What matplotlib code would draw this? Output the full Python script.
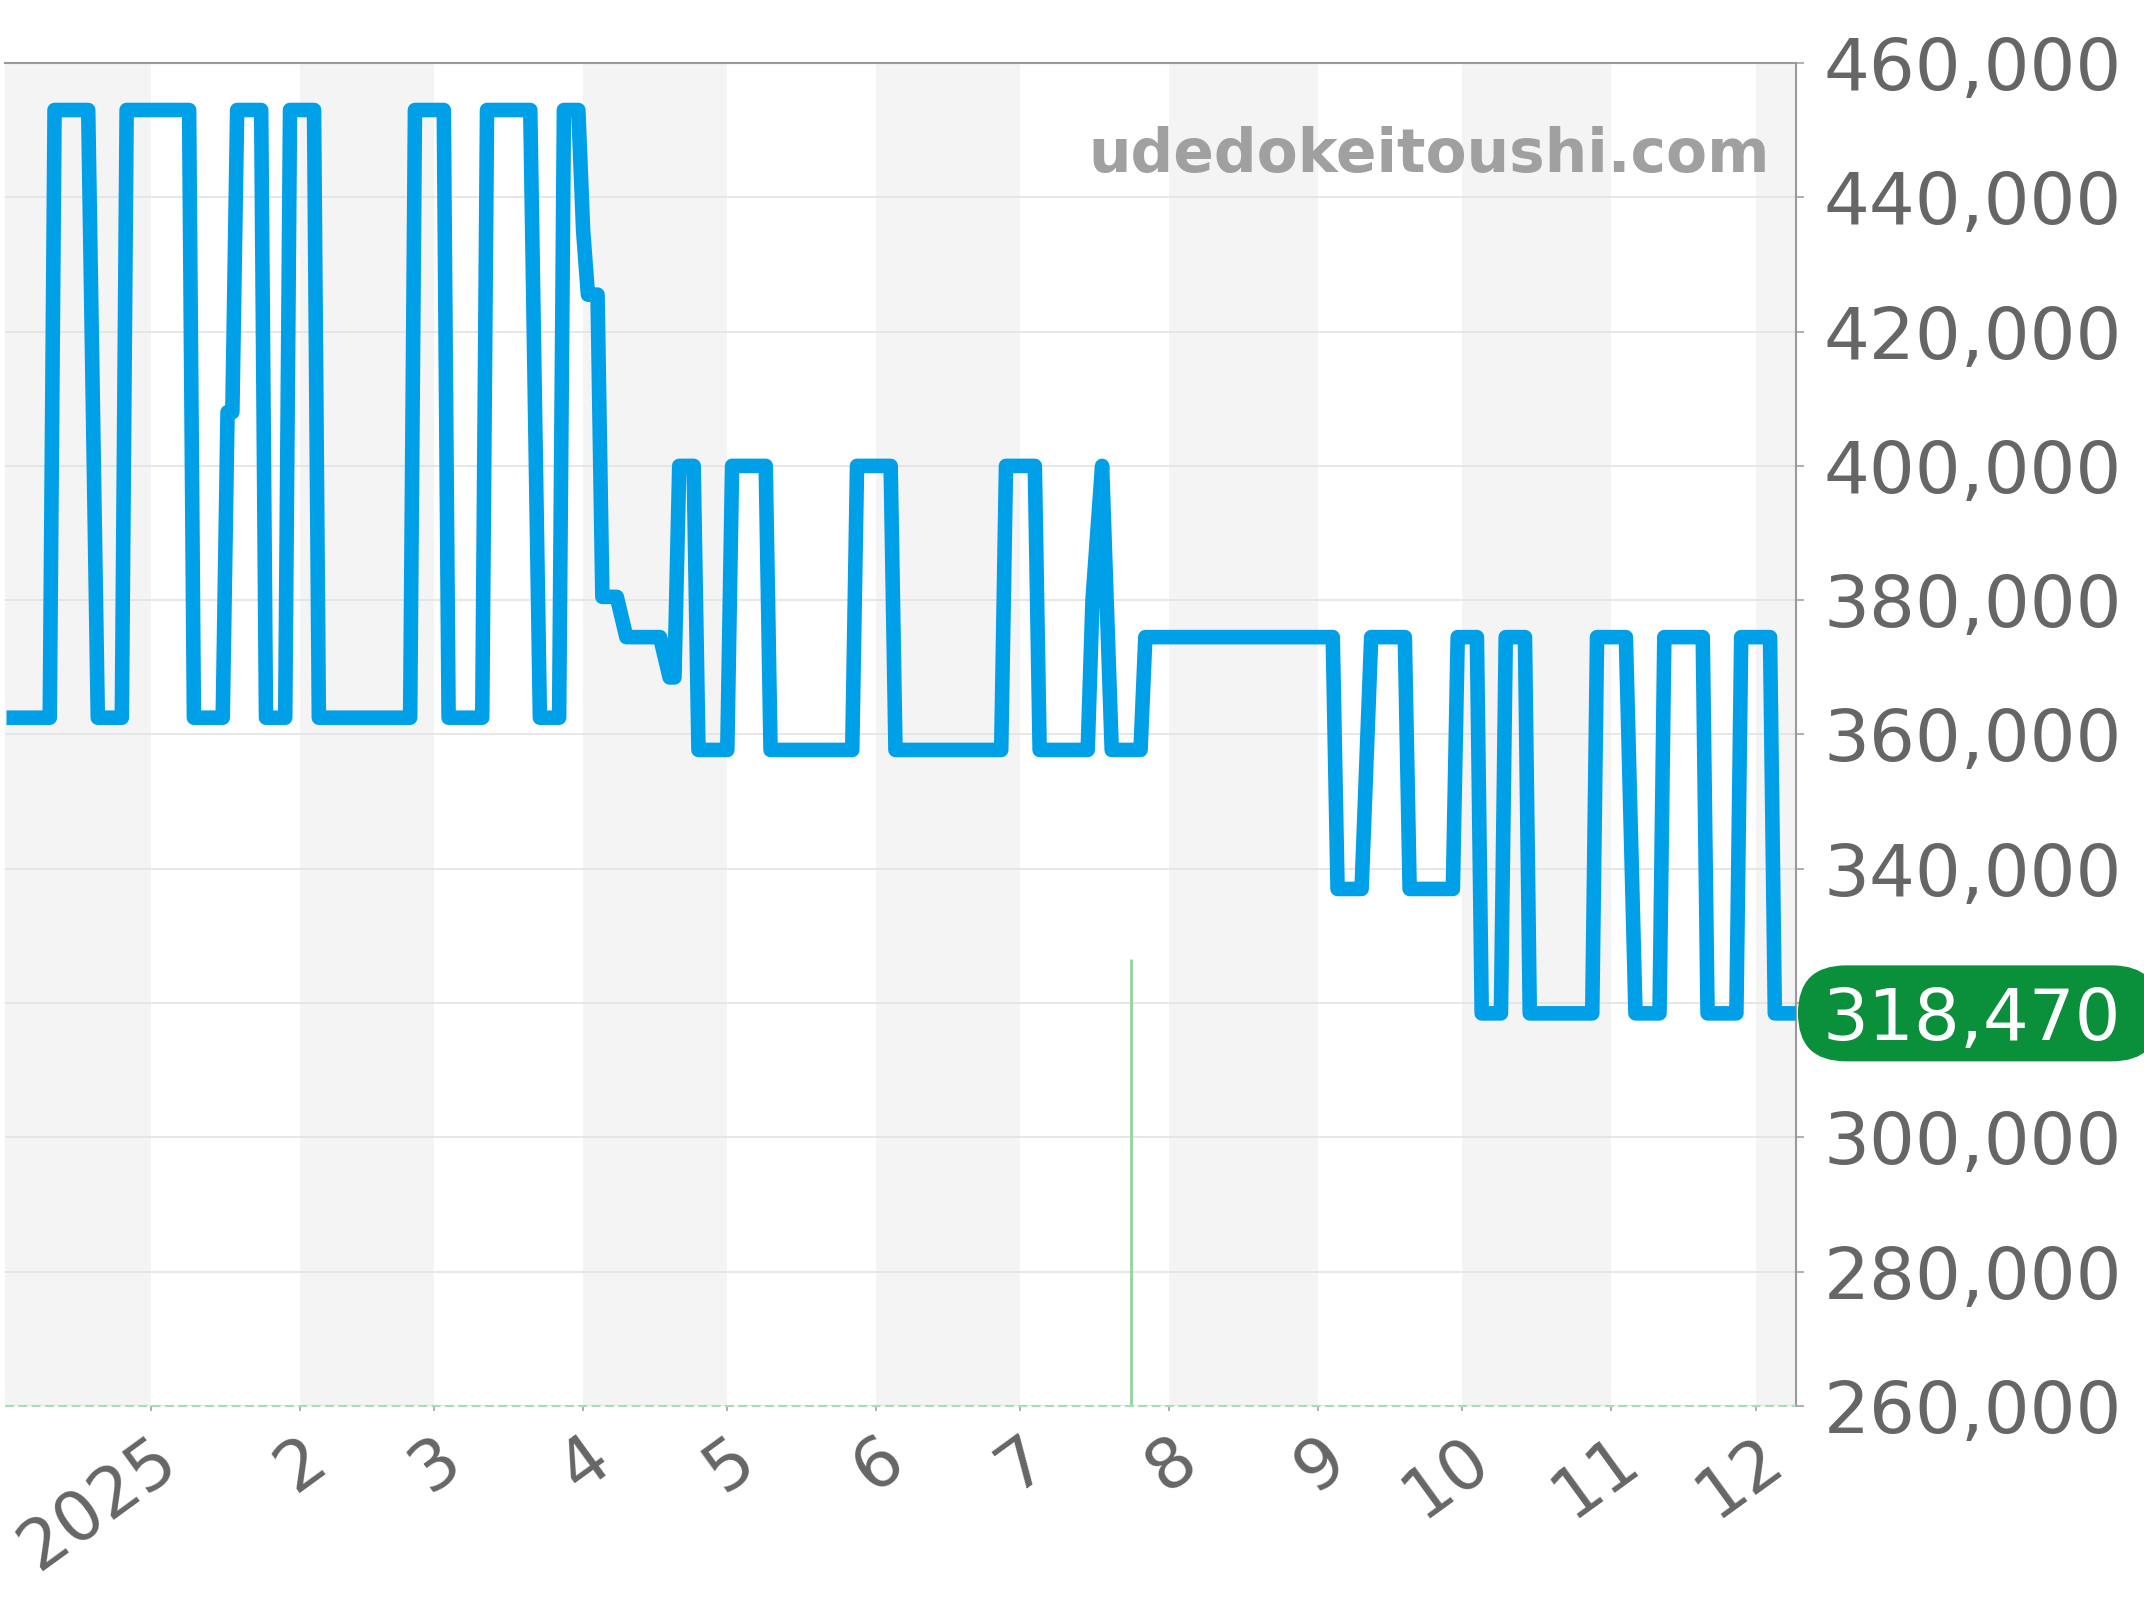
import matplotlib
matplotlib.use("Agg")
import matplotlib.pyplot as plt
from matplotlib.patches import FancyBboxPatch
from matplotlib.transforms import IdentityTransform
from matplotlib.ticker import FuncFormatter
import pandas as pd

# ---------------- data ----------------
dates = [
    "2024-12-02", "2024-12-11", "2024-12-12", "2024-12-19", "2024-12-21", "2024-12-26",
    "2024-12-27", "2025-01-09", "2025-01-10", "2025-01-16", "2025-01-17", "2025-01-18",
    "2025-01-19", "2025-01-24", "2025-01-25", "2025-01-29", "2025-01-30", "2025-02-04",
    "2025-02-05", "2025-02-24", "2025-02-25", "2025-03-03", "2025-03-04", "2025-03-11",
    "2025-03-12", "2025-03-21", "2025-03-23", "2025-03-27", "2025-03-28", "2025-03-31",
    "2025-04-01", "2025-04-02", "2025-04-04", "2025-04-05", "2025-04-08", "2025-04-10",
    "2025-04-17", "2025-04-19", "2025-04-20", "2025-04-21", "2025-04-24", "2025-04-25",
    "2025-05-01", "2025-05-02", "2025-05-09", "2025-05-10", "2025-05-27", "2025-05-28",
    "2025-06-04", "2025-06-05", "2025-06-27", "2025-06-28", "2025-07-04", "2025-07-05",
    "2025-07-15", "2025-07-16", "2025-07-18", "2025-07-20", "2025-07-26", "2025-07-27",
    "2025-09-04", "2025-09-05", "2025-09-10", "2025-09-12", "2025-09-19", "2025-09-20",
    "2025-09-29", "2025-09-30", "2025-10-04", "2025-10-05", "2025-10-09", "2025-10-10",
    "2025-10-14", "2025-10-15", "2025-10-28", "2025-10-29", "2025-11-04", "2025-11-06",
    "2025-11-11", "2025-11-12", "2025-11-20", "2025-11-21", "2025-11-27", "2025-11-28",
    "2025-12-04", "2025-12-05", "2025-12-10",
]
prices = [
    362500, 362500, 453000, 453000, 362500, 362500,
    453000, 453000, 362500, 362500, 408000, 408000,
    453000, 453000, 362500, 362500, 453000, 453000,
    362500, 362500, 453000, 453000, 362500, 362500,
    453000, 453000, 362500, 362500, 453000, 453000,
    435000, 425500, 425500, 380500, 380500, 374500,
    374500, 368500, 368500, 400000, 400000, 357700,
    357700, 400000, 400000, 357700, 357700, 400000,
    400000, 357700, 357700, 400000, 400000, 357700,
    357700, 380000, 400000, 357700, 357700, 374500,
    374500, 337000, 337000, 374500, 374500, 337000,
    337000, 374500, 374500, 318470, 318470, 374500,
    374500, 318470, 318470, 374500, 374500, 318470,
    318470, 374500, 374500, 318470, 318470, 374500,
    374500, 318470, 318470,
]

tick_dates = ["2025-01-01", "2025-02-01", "2025-03-01", "2025-04-01", "2025-05-01",
              "2025-06-01", "2025-07-01", "2025-08-01", "2025-09-01", "2025-10-01",
              "2025-11-01", "2025-12-01"]
tick_labels = ["2025", "2", "3", "4", "5", "6", "7", "8", "9", "10", "11", "12"]
y_ticks = [260000, 280000, 300000, 320000, 340000, 360000,
           380000, 400000, 420000, 440000, 460000]

shade_starts = ["2024-12-01", "2025-02-01", "2025-04-01", "2025-06-01",
                "2025-08-01", "2025-10-01", "2025-12-01"]
shade_ends = ["2025-01-01", "2025-03-01", "2025-05-01", "2025-07-01",
              "2025-09-01", "2025-11-01", "2026-01-01"]

marker_date = "2025-07-24"
marker_top = 326500
last_price = 318470
x_start = "2024-12-01 14:00"
x_end = "2025-12-09 12:00"
y_min, y_max = 260000, 460000
watermark = "udedokeitoushi.com"

# ---------------- figure ----------------
fig = plt.figure(figsize=(21.44, 16), dpi=100)
ax = fig.add_axes([0.0021, 0.12125, 0.8358, 0.83938])

x = pd.to_datetime(dates)

for s, e in zip(shade_starts, shade_ends):
    ax.axvspan(pd.Timestamp(s), pd.Timestamp(e), color="#f4f4f4", lw=0, zorder=0)

ax.set_axisbelow(True)
ax.yaxis.grid(True, color="#e3e3e3", lw=1.2, zorder=0.5)
ax.xaxis.grid(False)

ax.vlines(pd.Timestamp(marker_date), y_min, marker_top, color="#8fd69b", lw=2.0, zorder=2)
ax.axhline(y_min, color="#a9ddb5", lw=1.6, ls=(0, (4, 2)), zorder=3, clip_on=False)

ax.plot(x, prices, color="#00a0e9", lw=10.5, solid_joinstyle="round",
        solid_capstyle="butt", zorder=4)

ax.set_xlim(pd.Timestamp(x_start), pd.Timestamp(x_end))
ax.set_ylim(y_min, y_max)

for side in ("left", "bottom"):
    ax.spines[side].set_visible(False)
for side in ("top", "right"):
    ax.spines[side].set_color("#9a9a9a")
    ax.spines[side].set_linewidth(1.5)


def y_fmt(v, p):
    # the label hidden under the last-price badge is not shown
    if abs(v - last_price) < 6000:
        return ""
    return f"{int(v):,}"


ax.yaxis.tick_right()
ax.set_yticks(y_ticks)
ax.yaxis.set_major_formatter(FuncFormatter(y_fmt))
ax.tick_params(axis="y", length=5.8, width=1.1, color="#9a9a9a",
               labelsize=52, labelcolor="#666666", pad=14)

ax.set_xticks(pd.to_datetime(tick_dates))
ax.set_xticklabels(tick_labels, rotation=36, ha="right", va="top",
                   rotation_mode="anchor")
ax.tick_params(axis="x", length=3.8, width=1.1, color="#9a9a9a",
               labelsize=50, labelcolor="#666666", pad=9.5)

ax.text(0.985, 0.919, watermark, transform=ax.transAxes, ha="right", va="baseline",
        fontsize=43, fontweight="bold", color="#a0a0a0", zorder=5)

# ---------------- last-price badge ----------------
xl = ax.get_xlim()[1]
y_disp = ax.transData.transform((xl, last_price))[1]
x_disp = ax.transAxes.transform((1, 0))[0]
box_h = 96
badge = FancyBboxPatch((x_disp + 1.5, y_disp - box_h / 2), 362, box_h,
                       boxstyle=f"round,pad=0,rounding_size={box_h / 2}",
                       transform=IdentityTransform(), fc="#0a8f3b", ec="none",
                       clip_on=False)
fig.add_artist(badge)
fig.text(x_disp + 26, y_disp, f"{last_price:,}", transform=IdentityTransform(),
         ha="left", va="center_baseline", fontsize=52, color="white", zorder=6)

fig.savefig("out.png", dpi=100)
